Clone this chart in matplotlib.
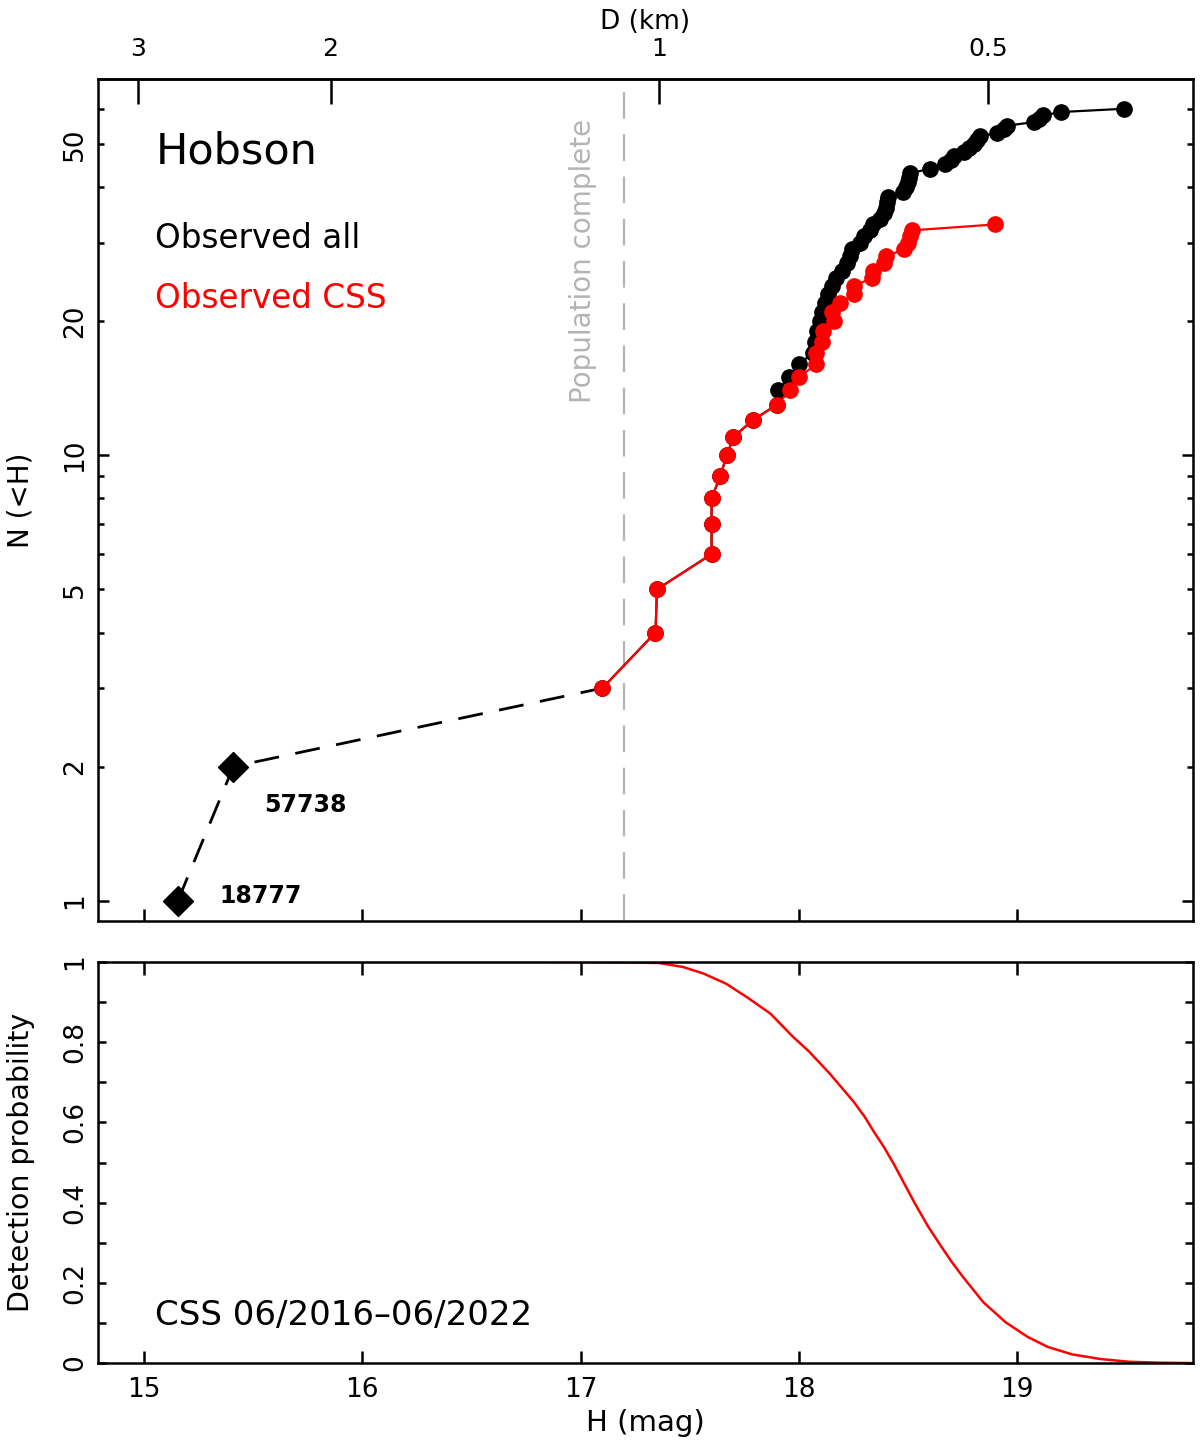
import numpy as np
import matplotlib
matplotlib.use('Agg')
import matplotlib.pyplot as plt
from matplotlib.ticker import FixedLocator, FuncFormatter, NullFormatter

# cumulative counts N(<H)
H_all = [15.156, 15.41, 17.10, 17.343, 17.35, 17.60, 17.60, 17.60, 17.64, 17.67,
         17.70, 17.79, 17.90, 17.905, 17.955, 18.00, 18.065, 18.075, 18.085, 18.095,
         18.105, 18.12, 18.135, 18.15, 18.17, 18.195, 18.22, 18.235, 18.245, 18.28,
         18.30, 18.325, 18.34, 18.37, 18.39, 18.40, 18.405, 18.41, 18.475, 18.49,
         18.50, 18.505, 18.51, 18.60, 18.67, 18.695, 18.71, 18.754, 18.78, 18.80,
         18.815, 18.83, 18.905, 18.94, 18.955, 19.075, 19.10, 19.12, 19.20, 19.487]
N_all = list(range(1, len(H_all) + 1))

H_css = [17.10, 17.343, 17.35, 17.60, 17.60, 17.60, 17.64, 17.67, 17.70, 17.79,
         17.90, 17.96, 18.00, 18.08, 18.08, 18.105, 18.11, 18.16, 18.15, 18.19,
         18.25, 18.25, 18.335, 18.34, 18.39, 18.40, 18.48, 18.50, 18.51, 18.518,
         18.90]
N_css = list(range(3, 3 + len(H_css)))

named_H = [15.156, 15.41]
named_N = [1, 2]
named_ids = ['18777', '57738']

H_complete = 17.20

# detection probability of CSS
H_det = [16.85, 17.0, 17.2, 17.36, 17.47, 17.564, 17.666, 17.768, 17.87, 17.972,
         18.046, 18.139, 18.25, 18.30, 18.343, 18.39, 18.436, 18.48, 18.529, 18.59,
         18.649, 18.70, 18.751, 18.844, 18.946, 19.048, 19.141, 19.252, 19.382,
         19.512, 19.65, 19.80]
P_det = [1.0, 1.0, 0.999, 0.9975, 0.9875, 0.971, 0.946, 0.910, 0.871, 0.814,
         0.777, 0.723, 0.652, 0.615, 0.577, 0.538, 0.495, 0.450, 0.400, 0.342,
         0.293, 0.252, 0.215, 0.152, 0.102, 0.065, 0.040, 0.0216, 0.010,
         0.0033, 0.001, 0.0]

D_ticks = [3, 2, 1, 0.5]


def H_to_D(H):
    return 10 ** ((17.36 - np.asarray(H, dtype=float)) / 5.0)


def D_to_H(D):
    D = np.clip(np.asarray(D, dtype=float), 1e-6, None)
    return 17.36 - 5 * np.log10(D)


plt.rcParams['font.family'] = 'DejaVu Sans'
fig = plt.figure(figsize=(12, 14.49), dpi=100)
ax = fig.add_axes([0.0817, 0.3644, 0.9125, 0.5811])
ax2 = fig.add_axes([0.0817, 0.0593, 0.9125, 0.2768])

xlim = (14.79, 19.805)
red = '#ff0000'

# ---- top panel
ax.plot(H_all[:3], N_all[:3], color='black', lw=2, ls=(0, (9, 6)), zorder=2)
ax.plot(H_all[2:], N_all[2:], color='black', lw=1.6, marker='o', ms=11, zorder=3)
ax.plot(named_H, named_N, ls='none', marker='D', ms=15, color='black', zorder=4)
ax.plot(H_css, N_css, color=red, lw=1.6, marker='o', ms=11, zorder=5)
ax.axvline(H_complete, color='#b4b4b4', lw=1.6, ls=(0, (12, 7)), zorder=1)

for h, n, lab in zip(named_H, named_N, named_ids):
    dx = 0.19 if lab == '18777' else 0.14
    ny = 0.99 if lab == '18777' else 1.58
    ax.text(h + dx, ny, lab, fontsize=17, fontweight='bold', va='baseline', ha='left')

ax.text(17.01, 57, 'Population complete', rotation=90, color='#b4b4b4',
        fontsize=20, ha='center', va='top')
ax.text(0.053, 0.900, 'Hobson', transform=ax.transAxes, fontsize=31, va='baseline')
ax.text(0.052, 0.799, 'Observed all', transform=ax.transAxes, fontsize=23.5, va='baseline')
ax.text(0.052, 0.728, 'Observed CSS', transform=ax.transAxes, fontsize=23.5,
        va='baseline', color=red)

ax.set_yscale('log')
ax.set_xlim(*xlim)
ax.set_ylim(0.9, 70)
ax.yaxis.set_major_locator(FixedLocator([1, 10]))
ax.yaxis.set_minor_locator(FixedLocator([2, 3, 4, 5, 6, 7, 8, 9, 20, 30, 40, 50, 60]))
ax.yaxis.set_major_formatter(FuncFormatter(lambda v, p: '%g' % v))
ax.yaxis.set_minor_formatter(FuncFormatter(lambda v, p: '%g' % v if v in (2, 5, 20, 50) else ''))
ax.set_xticks([15, 16, 17, 18, 19])
ax.xaxis.set_major_formatter(NullFormatter())
ax.tick_params(axis='x', which='major', direction='in', length=9, width=1.8, top=False)
ax.tick_params(axis='y', which='major', direction='in', length=8, width=1.8,
               right=True, labelsize=19, labelrotation=90, pad=7)
ax.tick_params(axis='y', which='minor', direction='in', length=4.5, width=1.8,
               right=True, labelsize=19, labelrotation=90, pad=7)
for t in ax.get_yticklabels(which='both'):
    t.set_va('center')
ax.set_ylabel('N (<H)', fontsize=20)
ax.yaxis.set_label_coords(-0.058, 0.5)

sec = ax.secondary_xaxis('top', functions=(H_to_D, D_to_H))
sec.set_xticks(D_ticks)
sec.set_xticklabels(['%g' % d for d in D_ticks])
sec.tick_params(direction='in', length=18, width=1.8, labelsize=18, pad=13)
sec.xaxis.set_minor_locator(FixedLocator([]))
sec.set_xlabel('D (km)', fontsize=19, labelpad=6)

# ---- bottom panel
ax2.plot(H_det, P_det, color=red, lw=1.8)
ax2.text(0.052, 0.095, 'CSS 06/2016\u201306/2022', transform=ax2.transAxes,
         fontsize=24.5, va='baseline')
ax2.set_xlim(*xlim)
ax2.set_ylim(0, 1)
ax2.set_xticks([15, 16, 17, 18, 19])
ax2.set_yticks([0, 0.2, 0.4, 0.6, 0.8, 1.0])
ax2.set_yticklabels(['0', '0.2', '0.4', '0.6', '0.8', '1'])
ax2.yaxis.set_minor_locator(FixedLocator([0.1, 0.3, 0.5, 0.7, 0.9]))
ax2.tick_params(axis='x', direction='in', length=9, width=1.8, top=True,
                labelsize=19, pad=10)
ax2.tick_params(axis='y', which='both', direction='in', length=6, width=1.8,
                right=True, labelsize=19, labelrotation=90, pad=7)
for t in ax2.get_yticklabels():
    t.set_va('center')
ax2.set_xlabel('H (mag)', fontsize=21)
ax2.xaxis.set_label_coords(0.5, -0.115)
ax2.set_ylabel('Detection probability', fontsize=20.5)
ax2.yaxis.set_label_coords(-0.058, 0.5)

for a in (ax, ax2):
    for s in a.spines.values():
        s.set_linewidth(1.8)
sec.spines['top'].set_linewidth(1.8)

fig.savefig('out.png', dpi=100)
